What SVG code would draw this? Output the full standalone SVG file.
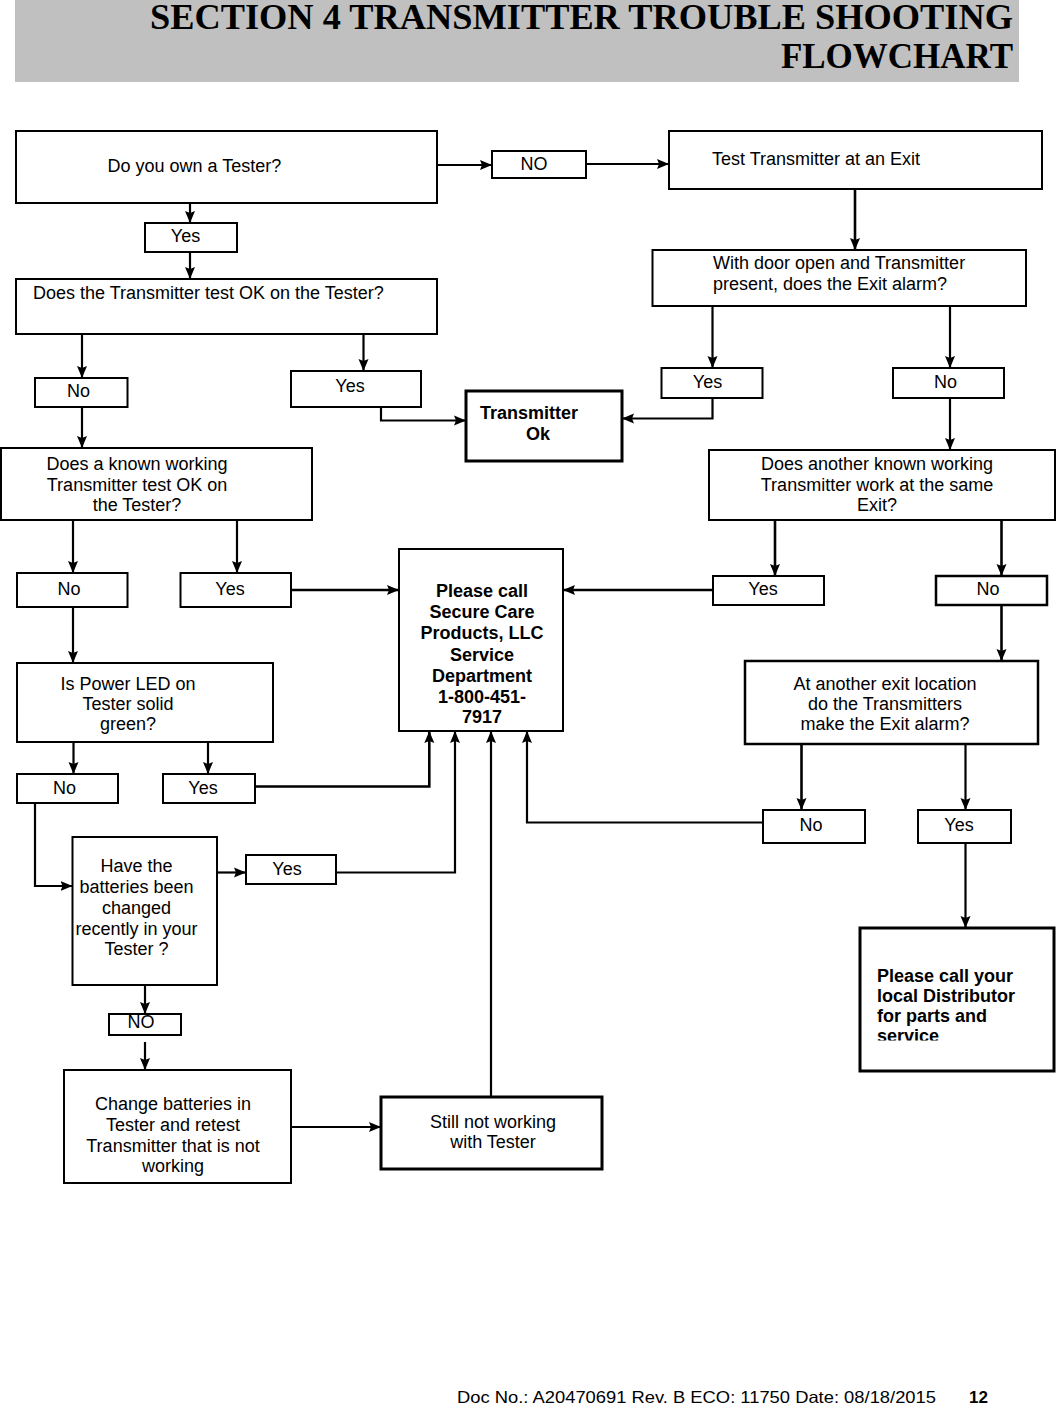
<svg xmlns="http://www.w3.org/2000/svg" width="1057" height="1405" viewBox="0 0 1057 1405">
<style>
  .box { fill: #ffffff; stroke: #000000; stroke-width: 2; }
  .thick { stroke-width: 3; }
  .t { font-family: "Liberation Sans", Arial, sans-serif; font-size: 18px; fill: #000000; }
  .b { font-weight: bold; }
  .c { text-anchor: middle; }
  .conn { fill: none; stroke: #000000; stroke-width: 2.2; }
  .title { font-family: "Liberation Serif", "Times New Roman", serif; font-weight: bold; font-size: 35px; text-anchor: end; fill: #000000; }
</style>
<defs>
  <marker id="arr" viewBox="0 0 12 12" refX="12" refY="6" markerWidth="12" markerHeight="12" markerUnits="userSpaceOnUse" orient="auto">
    <path d="M0,1 L12,6 L0,11 L2,6 z" fill="#000000"/>
  </marker>
  <clipPath id="clipDist">
    <rect x="860" y="928" width="194" height="112.5"/>
  </clipPath>
</defs>
<rect width="1057" height="1405" fill="#ffffff"/>

<g id="header">
  <rect x="15" y="0" width="1004" height="82" fill="#c0c0c0"/>
  <text class="title" x="1013" y="29" textLength="863" lengthAdjust="spacingAndGlyphs">SECTION 4 TRANSMITTER TROUBLE SHOOTING</text>
  <text class="title" x="1013" y="68">FLOWCHART</text>
</g>

<g id="connectors">
  <path class="conn" d="M437,165 H492" marker-end="url(#arr)"/>
  <path class="conn" d="M586,164 H669" marker-end="url(#arr)"/>
  <path class="conn" d="M855,189 V250" marker-end="url(#arr)" style="stroke-width:2.6"/>
  <path class="conn" d="M190,203 V223" marker-end="url(#arr)"/>
  <path class="conn" d="M190,252 V279" marker-end="url(#arr)"/>
  <path class="conn" d="M82,334 V378" marker-end="url(#arr)"/>
  <path class="conn" d="M363.5,334 V371" marker-end="url(#arr)"/>
  <path class="conn" d="M381,407 V420.5 H466" marker-end="url(#arr)"/>
  <path class="conn" d="M712.5,306 V368" marker-end="url(#arr)"/>
  <path class="conn" d="M950,306 V368" marker-end="url(#arr)"/>
  <path class="conn" d="M712.5,398 V418.5 H622" marker-end="url(#arr)"/>
  <path class="conn" d="M82,407 V448" marker-end="url(#arr)"/>
  <path class="conn" d="M950,398 V450" marker-end="url(#arr)"/>
  <path class="conn" d="M73,520 V573" marker-end="url(#arr)"/>
  <path class="conn" d="M237,520 V573" marker-end="url(#arr)"/>
  <path class="conn" d="M775,520 V576" marker-end="url(#arr)" style="stroke-width:2.6"/>
  <path class="conn" d="M1001.5,520 V576" marker-end="url(#arr)" style="stroke-width:2.6"/>
  <path class="conn" d="M291,590 H399" marker-end="url(#arr)" style="stroke-width:2.6"/>
  <path class="conn" d="M713,590 H563" marker-end="url(#arr)" style="stroke-width:2.6"/>
  <path class="conn" d="M73,607 V663" marker-end="url(#arr)"/>
  <path class="conn" d="M1001.5,605 V661" marker-end="url(#arr)" style="stroke-width:2.6"/>
  <path class="conn" d="M73.5,742 V774" marker-end="url(#arr)"/>
  <path class="conn" d="M208,742 V774" marker-end="url(#arr)"/>
  <path class="conn" d="M801.5,744 V810" marker-end="url(#arr)" style="stroke-width:2.6"/>
  <path class="conn" d="M965.5,744 V810" marker-end="url(#arr)"/>
  <path class="conn" d="M255,786.5 H429.3 V731" marker-end="url(#arr)" style="stroke-width:2.6"/>
  <path class="conn" d="M763,822.5 H527 V731" marker-end="url(#arr)"/>
  <path class="conn" d="M35,803 V886 H72.5" marker-end="url(#arr)"/>
  <path class="conn" d="M217,872.5 H246" marker-end="url(#arr)"/>
  <path class="conn" d="M336,872.5 H455 V731" marker-end="url(#arr)"/>
  <path class="conn" d="M491,1097 V731" marker-end="url(#arr)"/>
  <path class="conn" d="M965.5,843 V928" marker-end="url(#arr)"/>
  <path class="conn" d="M145,985 V1014" marker-end="url(#arr)"/>
  <path class="conn" d="M145,1042 V1070" marker-end="url(#arr)"/>
  <path class="conn" d="M291,1127 H381" marker-end="url(#arr)"/>
</g>

<g id="own-tester">
  <rect class="box" x="16" y="131" width="421" height="72"/>
  <text class="t" x="107.5" y="172">Do you own a Tester?</text>
</g>
<g id="no-top">
  <rect class="box" x="492" y="151" width="94" height="27"/>
  <text class="t c" x="534" y="170">NO</text>
</g>
<g id="test-exit">
  <rect class="box" x="669" y="131" width="373" height="58"/>
  <text class="t" x="712" y="165">Test Transmitter at an Exit</text>
</g>
<g id="yes-own">
  <rect class="box" x="145" y="223" width="92" height="29"/>
  <text class="t c" x="185.5" y="242">Yes</text>
</g>
<g id="test-ok">
  <rect class="box" x="16" y="279" width="421" height="55"/>
  <text class="t" x="33" y="299">Does the Transmitter test OK on the Tester?</text>
</g>
<g id="door-open">
  <rect class="box" x="652.5" y="250" width="373.5" height="56"/>
  <text class="t" x="713" y="268.5">With door open and Transmitter</text>
  <text class="t" x="713" y="289.5">present, does the Exit alarm?</text>
</g>
<g id="no-testok">
  <rect class="box" x="35" y="378" width="92.5" height="29"/>
  <text class="t c" x="78.5" y="397">No</text>
</g>
<g id="yes-testok">
  <rect class="box" x="291" y="371" width="130" height="36"/>
  <text class="t c" x="350" y="392">Yes</text>
</g>
<g id="transmitter-ok">
  <rect class="box thick" x="466" y="391" width="156" height="70"/>
  <text class="t b" x="480" y="419">Transmitter</text>
  <text class="t b c" x="538" y="440">Ok</text>
</g>
<g id="yes-door">
  <rect class="box" x="661.5" y="368" width="101" height="30"/>
  <text class="t c" x="707.5" y="388">Yes</text>
</g>
<g id="no-door">
  <rect class="box" x="893" y="368" width="111" height="30"/>
  <text class="t c" x="945.5" y="388">No</text>
</g>
<g id="known-working">
  <rect class="box" x="1" y="448" width="311" height="72"/>
  <text class="t c" x="137" y="470">Does a known working</text>
  <text class="t c" x="137" y="490.5">Transmitter test OK on</text>
  <text class="t c" x="137" y="511">the Tester?</text>
</g>
<g id="another-working">
  <rect class="box" x="709" y="450" width="346" height="70"/>
  <text class="t c" x="877" y="470">Does another known working</text>
  <text class="t c" x="877" y="490.5">Transmitter work at the same</text>
  <text class="t c" x="877" y="511">Exit?</text>
</g>
<g id="no-known">
  <rect class="box" x="17" y="573" width="110.5" height="34"/>
  <text class="t c" x="69" y="595">No</text>
</g>
<g id="yes-known">
  <rect class="box" x="180.5" y="573" width="110.5" height="34"/>
  <text class="t c" x="230" y="595">Yes</text>
</g>
<g id="call-secure-care">
  <rect class="box" x="399" y="549" width="164" height="182"/>
  <text class="t b c" x="482" y="596.5">Please call</text>
  <text class="t b c" x="482" y="617.5">Secure Care</text>
  <text class="t b c" x="482" y="639">Products, LLC</text>
  <text class="t b c" x="482" y="660.5">Service</text>
  <text class="t b c" x="482" y="681.5">Department</text>
  <text class="t b c" x="482" y="702.5">1-800-451-</text>
  <text class="t b c" x="482" y="723">7917</text>
</g>
<g id="yes-another">
  <rect class="box" x="713" y="576" width="111" height="29"/>
  <text class="t c" x="763" y="595">Yes</text>
</g>
<g id="no-another">
  <rect class="box" x="936" y="576" width="111" height="29" style="stroke-width:2.5"/>
  <text class="t c" x="988" y="595">No</text>
</g>
<g id="power-led">
  <rect class="box" x="17" y="663" width="256" height="79"/>
  <text class="t c" x="128" y="689.5">Is Power LED on</text>
  <text class="t c" x="128" y="709.5">Tester solid</text>
  <text class="t c" x="128" y="729.5">green?</text>
</g>
<g id="another-exit">
  <rect class="box" x="745" y="661" width="293" height="83" style="stroke-width:2.5"/>
  <text class="t c" x="885" y="689.5">At another exit location</text>
  <text class="t c" x="885" y="709.5">do the Transmitters</text>
  <text class="t c" x="885" y="729.5">make the Exit alarm?</text>
</g>
<g id="no-led">
  <rect class="box" x="17" y="774" width="101" height="29"/>
  <text class="t c" x="64.5" y="793.5">No</text>
</g>
<g id="yes-led">
  <rect class="box" x="163" y="774" width="92" height="29"/>
  <text class="t c" x="203" y="793.5">Yes</text>
</g>
<g id="no-exit">
  <rect class="box" x="763" y="810" width="102" height="33"/>
  <text class="t c" x="811" y="831">No</text>
</g>
<g id="yes-exit">
  <rect class="box" x="918" y="810" width="93" height="33"/>
  <text class="t c" x="959" y="831">Yes</text>
</g>
<g id="batteries">
  <rect class="box" x="72.5" y="837" width="144.5" height="148"/>
  <text class="t c" x="136.5" y="871.5">Have the</text>
  <text class="t c" x="136.5" y="892.5">batteries been</text>
  <text class="t c" x="136.5" y="913.5">changed</text>
  <text class="t c" x="136.5" y="934.5">recently in your</text>
  <text class="t c" x="136.5" y="955">Tester ?</text>
</g>
<g id="yes-batteries">
  <rect class="box" x="246" y="855" width="90" height="29"/>
  <text class="t c" x="287" y="874.5">Yes</text>
</g>
<g id="no-batteries">
  <rect class="box" x="109" y="1014" width="72" height="21"/>
  <text class="t c" x="141" y="1028">NO</text>
</g>
<g id="call-distributor">
  <rect class="box thick" x="860" y="928" width="194" height="143"/>
  <g clip-path="url(#clipDist)">
    <text class="t b" x="877" y="981.5">Please call your</text>
    <text class="t b" x="877" y="1001.5">local Distributor</text>
    <text class="t b" x="877" y="1021.5">for parts and</text>
    <text class="t b" x="877" y="1042">service</text>
  </g>
</g>
<g id="change-batteries">
  <rect class="box" x="64" y="1070" width="227" height="113"/>
  <text class="t c" x="173" y="1110">Change batteries in</text>
  <text class="t c" x="173" y="1130.5">Tester and retest</text>
  <text class="t c" x="173" y="1151.5">Transmitter that is not</text>
  <text class="t c" x="173" y="1172">working</text>
</g>
<g id="still-not-working">
  <rect class="box thick" x="381" y="1097" width="221" height="72"/>
  <text class="t c" x="493" y="1128">Still not working</text>
  <text class="t c" x="493" y="1148">with Tester</text>
</g>

<g id="footer">
  <text class="t" x="457" y="1403" style="font-size:16.5px" textLength="479" lengthAdjust="spacingAndGlyphs">Doc No.: A20470691 Rev. B ECO: 11750 Date: 08/18/2015</text>
  <text class="t b" x="969" y="1403" style="font-size:17px">12</text>
</g>
</svg>
